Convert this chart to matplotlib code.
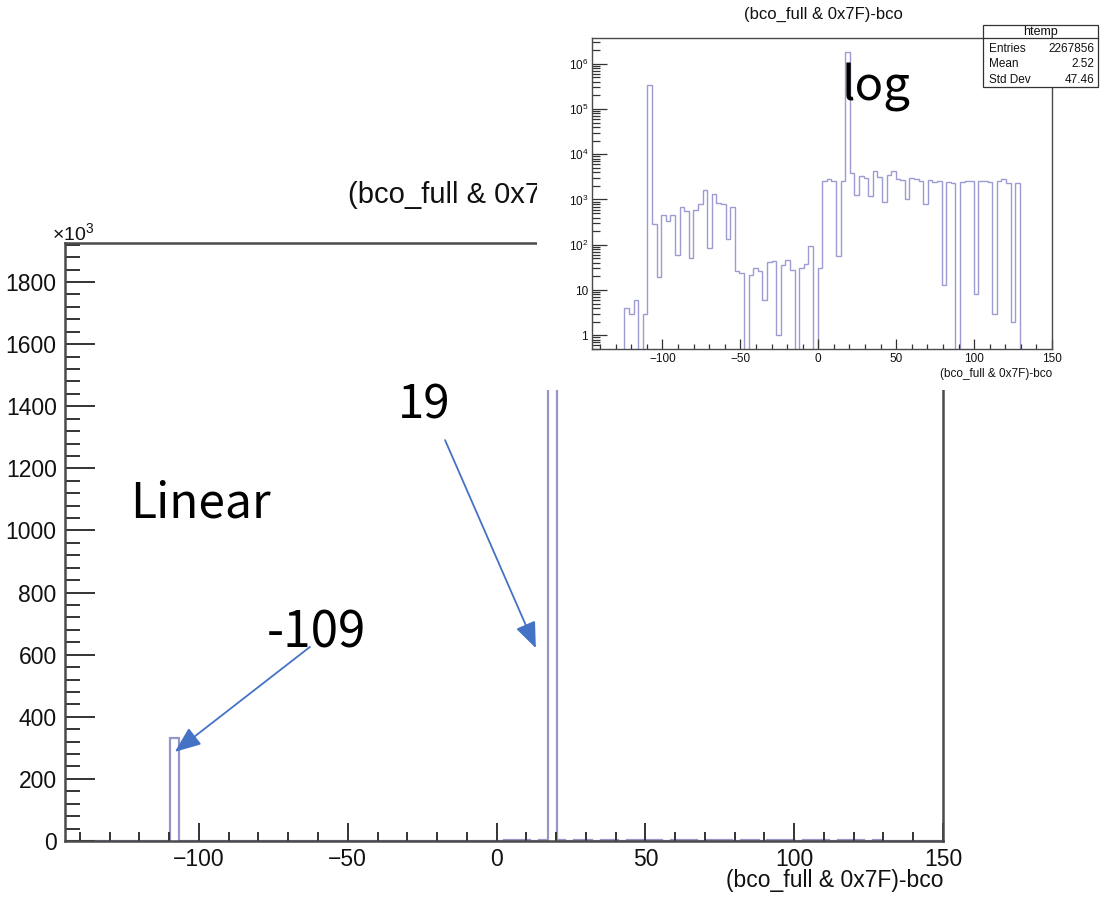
import numpy as np
import matplotlib
matplotlib.use("Agg")
import matplotlib.pyplot as plt
from matplotlib.patches import Rectangle
from matplotlib.lines import Line2D
from matplotlib.transforms import Bbox
from matplotlib.ticker import MultipleLocator, FuncFormatter, LogLocator, NullFormatter

plt.rcParams["font.family"] = ["Liberation Sans", "DejaVu Sans"]
plt.rcParams["mathtext.fontset"] = "custom"
plt.rcParams["mathtext.rm"] = "Liberation Sans"
plt.rcParams["mathtext.it"] = "Liberation Sans:italic"
plt.rcParams["mathtext.bf"] = "Liberation Sans:bold"

# ---- histogram definition -------------------------------------------------
X_MIN, X_MAX, N_BINS = -145.0, 150.0, 100

# bin contents of htemp, left to right
counts = [
    0, 0, 0, 0, 0, 0, 0, 4, 3, 6,
    0, 3, 331000, 290, 19, 450, 340, 450, 58, 680,
    560, 51, 600, 800, 1600, 86, 1300, 850, 780, 137,
    700, 27, 24, 0, 22, 31, 27, 6, 41, 44,
    1, 35, 47, 28, 0, 30, 38, 93, 0, 30,
    2500, 2800, 2500, 56, 2600, 1834000, 3800, 1250, 3300, 3000,
    1200, 4200, 3200, 900, 3400, 4300, 2900, 2700, 1000, 3000,
    2800, 2600, 790, 2700, 2400, 2500, 13, 2400, 2300, 0,
    2400, 2500, 2600, 8, 2500, 2600, 2400, 3, 2600, 2800,
    2300, 2, 2300, 0, 0, 0, 0, 0, 0, 0,
]

hist_title = "(bco_full & 0x7F)-bco"
stats_name = "htemp"
stats_labels = ["Entries", "Mean", "Std Dev"]
stats_values = ["2267856", "2.52", "47.46"]

notes = ["Linear", "-109", "19", "log"]

edges = np.linspace(X_MIN, X_MAX, N_BINS + 1)
counts = np.asarray(counts, dtype=float)

W, H = 1101, 900
fig = plt.figure(figsize=(W / 100, H / 100), dpi=100)


def fx(px):
    return px / W


def fy(py):
    return 1 - py / H


FRAME = "#4a4a4a"
HIST_MAIN = "#9696c8"
HIST_LOG = "#9c9cd2"
ARROW = "#4472C4"
NOTE_FONT = ["Noto Sans CJK JP", "DejaVu Sans"]
PANEL_LEFT, PANEL_BOTTOM = 537, 390

# ---- linear-scale histogram -----------------------------------------------
ax = fig.add_axes([fx(65), fy(841), fx(943 - 65), (841 - 243) / H], zorder=0)
ax.stairs(counts, edges, baseline=0, fill=False, color=HIST_MAIN, lw=1.6)
ax.set_xlim(X_MIN, X_MAX)
ax.set_ylim(0, 1.05 * counts.max())

for s in ax.spines.values():
    s.set_color(FRAME)
    s.set_linewidth(1.8)

ax.xaxis.set_major_locator(MultipleLocator(50))
ax.xaxis.set_minor_locator(MultipleLocator(10))
ax.yaxis.set_major_locator(MultipleLocator(200e3))
ax.yaxis.set_minor_locator(MultipleLocator(40e3))
ax.yaxis.set_major_formatter(FuncFormatter(lambda v, _: f"{v / 1e3:.0f}"))
ax.tick_params(which="both", direction="in", top=False, right=False,
               color="#333333", width=1.4, labelcolor="#111111")
ax.tick_params(axis="y", which="major", length=21.6, pad=6, labelsize=16.5)
ax.tick_params(axis="y", which="minor", length=10.8)
ax.tick_params(axis="x", which="major", length=13, pad=5, labelsize=16.5)
ax.tick_params(axis="x", which="minor", length=6.5)

ax.text(fx(52), fy(233), "×10$^{3}$", transform=fig.transFigure,
        ha="left", va="center", fontsize=14, color="#111111")

# canvas title, partly covered by the log-scale panel
title_clip = Bbox.from_extents(0, 0, PANEL_LEFT, H)
main_title = ax.text(fx(348), fy(195), hist_title, transform=fig.transFigure,
                     ha="left", va="center", fontsize=21, color="#111111")
main_title.set_clip_box(title_clip)
main_title.set_clip_on(True)

ax.text(fx(943), fy(881), hist_title, transform=fig.transFigure,
        ha="right", va="center", fontsize=16.5, color="#111111")

# arrows pointing at the two peaks
arrow_style = dict(arrowstyle="-|>,head_length=0.8,head_width=0.32",
                   color=ARROW, lw=1.3, mutation_scale=20, shrinkA=0, shrinkB=0)
ax.annotate("", xy=(-108.1, 287e3), xytext=(-62.7, 625e3), arrowprops=arrow_style)
ax.annotate("", xy=(13.2, 621e3), xytext=(-17.3, 1291e3), arrowprops=arrow_style)

# ---- log-scale panel ------------------------------------------------------
fig.patches.append(Rectangle((fx(PANEL_LEFT), fy(PANEL_BOTTOM)), fx(W - PANEL_LEFT),
                             PANEL_BOTTOM / H, transform=fig.transFigure,
                             facecolor="white", edgecolor="none", zorder=1))

axl = fig.add_axes([fx(592.3), fy(349), fx(1052 - 592.3), (349 - 38.3) / H], zorder=2)
axl.set_facecolor("white")
axl.set_yscale("log", nonpositive="clip")
axl.stairs(counts, edges, baseline=0, fill=False, color=HIST_LOG, lw=1.0)
axl.set_xlim(X_MIN, X_MAX)
lmax = np.log10(counts.max())
lmin = np.log10(0.5)
axl.set_ylim(0.5, 10 ** (lmax + 0.045 * (lmax - lmin)))

for s in axl.spines.values():
    s.set_color(FRAME)
    s.set_linewidth(1.0)


def log_label(v, _):
    n = int(round(np.log10(v)))
    if n == 0:
        return "1"
    if n == 1:
        return "10"
    return f"$10^{{{n}}}$"


axl.xaxis.set_major_locator(MultipleLocator(50))
axl.xaxis.set_minor_locator(MultipleLocator(10))
axl.yaxis.set_major_locator(LogLocator(base=10, numticks=20))
axl.yaxis.set_minor_locator(LogLocator(base=10, subs=np.arange(2, 10), numticks=20))
axl.yaxis.set_major_formatter(FuncFormatter(log_label))
axl.yaxis.set_minor_formatter(NullFormatter())
axl.tick_params(which="both", direction="in", top=False, right=False,
                color="#333333", width=0.9, labelcolor="#111111")
axl.tick_params(axis="y", which="major", length=10.8, pad=3, labelsize=8.5)
axl.tick_params(axis="y", which="minor", length=5.8)
axl.tick_params(axis="x", which="major", length=7.2, pad=3, labelsize=8.5)
axl.tick_params(axis="x", which="minor", length=3.6)

fig.text(fx(823), fy(14), hist_title, ha="center", va="center",
         fontsize=12, color="#111111", zorder=4)
fig.text(fx(1052), fy(374), hist_title, ha="right", va="center",
         fontsize=8.5, color="#111111", zorder=4)

# statistics box
bx0, bx1, by0, by1 = 983, 1098, 25, 87
fig.patches.append(Rectangle((fx(bx0), fy(by1)), fx(bx1 - bx0), (by1 - by0) / H,
                             transform=fig.transFigure, facecolor="white",
                             edgecolor="#333333", lw=0.9, zorder=3))
fig.lines.append(Line2D([fx(bx0), fx(bx1)], [fy(37.5), fy(37.5)],
                        transform=fig.transFigure, color="#333333", lw=0.9, zorder=4))
fig.text(fx((bx0 + bx1) / 2), fy(31.5), stats_name, ha="center", va="center",
         fontsize=9, color="#111111", zorder=5)
for i, (lab, val) in enumerate(zip(stats_labels, stats_values)):
    yy = fy(49 + 15.3 * i)
    fig.text(fx(989), yy, lab, ha="left", va="center", fontsize=8.5,
             color="#111111", zorder=5)
    fig.text(fx(1094), yy, val, ha="right", va="center", fontsize=8.5,
             color="#111111", zorder=5)

# ---- hand-written notes ---------------------------------------------------
fig.text(fx(130), fy(517), notes[0], ha="left", va="baseline", fontsize=34.5,
         family=NOTE_FONT, color="black", zorder=10)
fig.text(fx(267), fy(647), notes[1], ha="left", va="baseline", fontsize=35.5,
         family=NOTE_FONT, color="black", zorder=10)
fig.text(fx(398), fy(419), notes[2], ha="left", va="baseline", fontsize=34,
         family=NOTE_FONT, color="black", zorder=10)
fig.text(fx(842), fy(101), notes[3], ha="left", va="baseline", fontsize=34,
         family=NOTE_FONT, color="black", zorder=10)

fig.savefig("out.png", dpi=100, facecolor="white")
